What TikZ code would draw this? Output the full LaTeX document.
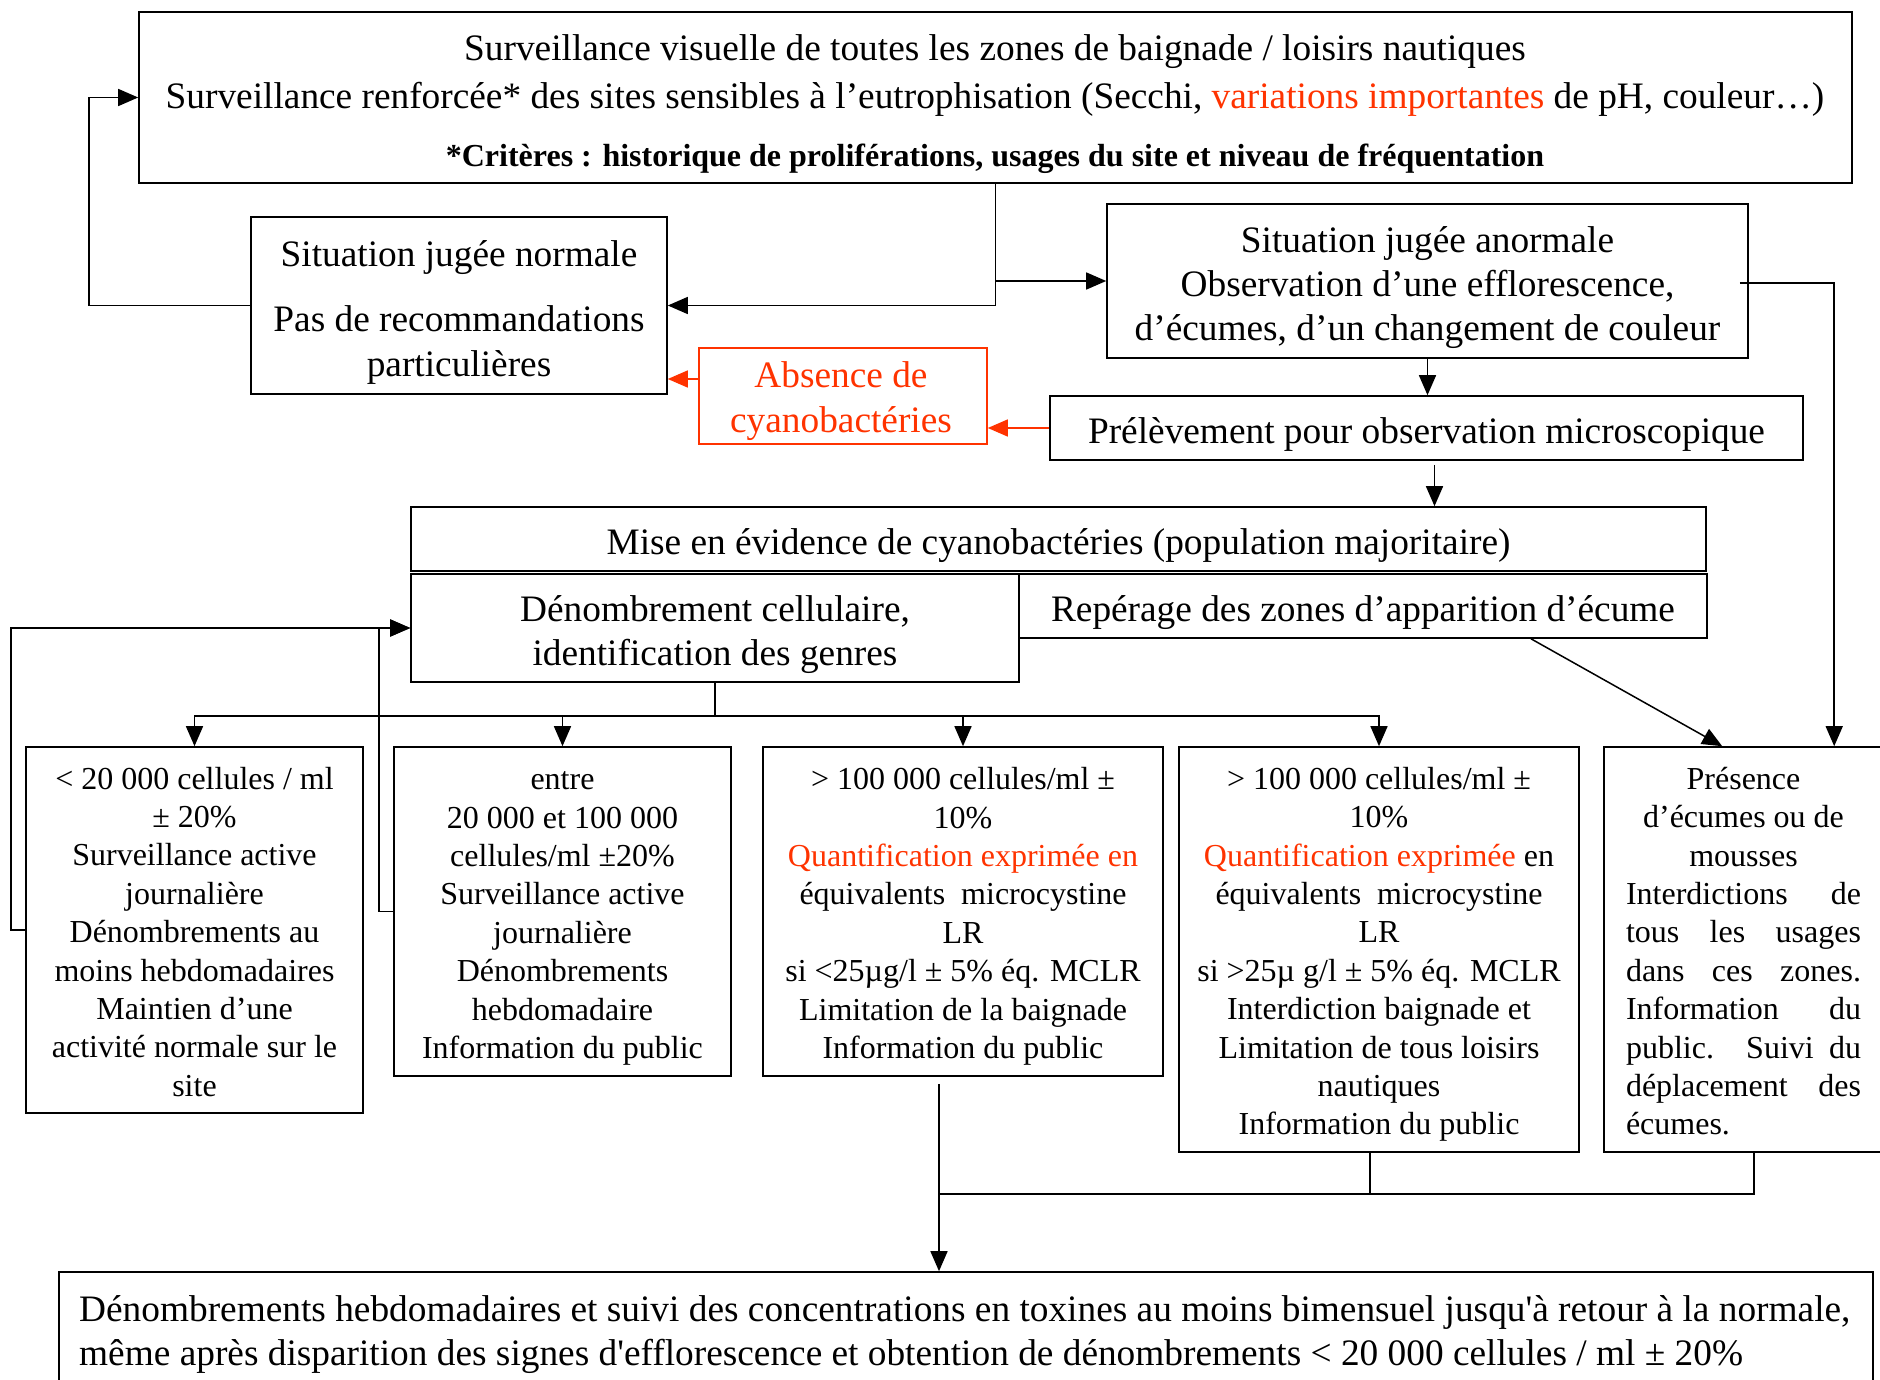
\documentclass[tikz,border=0pt]{standalone}
\usepackage{fontspec}
\setmainfont{Liberation Serif}[Ligatures=TeXOff]
\usetikzlibrary{arrows.meta,calc}
\definecolor{redo}{RGB}{255,51,0}
\newcommand\fsz[2]{\fontsize{#1}{#2}\selectfont}
\newcommand\T[1][14pt]{\rule{0pt}{\dimexpr0.7\baselineskip+#1\relax}}
\newcommand\B{\rule[-0.3\baselineskip]{0pt}{0pt}}
\tikzset{
  box/.style={draw, line width=1.6pt, inner sep=0pt, align=center},
  txt/.style={inner sep=0pt, align=center},
  conn/.style={line width=1.5pt, -{Triangle[length=20pt,width=17pt]}},
  rconn/.style={conn, draw=redo, -{Triangle[length=20pt,width=17pt,fill=redo]}},
  plain/.style={line width=1.5pt},
  big/.style={font=\fsz{37.33}{44}},
  small/.style={font=\fsz{32}{38.4}},
}
\begin{document}
\begin{tikzpicture}[x=1pt,y=-1pt]
\useasboundingbox (0,0) rectangle (1880,1380);
% top box
\node[box, minimum width=1713pt, minimum height=171pt] (top) at (995.5,97.5) {};
\node[txt, font=\fsz{37.33}{48}] (t1) at (995,67.5) {\T Surveillance visuelle de toutes les zones de baignade / loisirs nautiques\\
Surveillance renforcée* des sites sensibles à l’eutrophisation (Secchi, \textcolor{redo}{variations importantes} de pH, couleur…)\B};
\node[txt, font=\fsz{32}{38.4}\bfseries] (t2) at (995,152) {\T *Critères : historique de proliférations, usages du site et niveau de fréquentation\B};
% second row
\node[box, font=\fsz{37.33}{45}, minimum width=416pt, minimum height=177pt] (normal) at (459,305.5)
  {\T Situation jugée normale\\[21pt] Pas de recommandations\\ particulières\B};
\node[box, font=\fsz{37.33}{44}, minimum width=641pt, minimum height=154pt] (anormale) at (1427.5,281)
  {\T Situation jugée anormale\\ Observation d’une efflorescence,\\ d’écumes, d’un changement de couleur\B};
\node[box, draw=redo, minimum width=288pt, minimum height=96pt] (absence) at (843,396) {};
\node[txt, text=redo, font=\fsz{37.33}{45}] (abst) at (841,393.5)
  {\T Absence de\\ cyanobactéries\B};
\node[box, big, minimum width=753pt, minimum height=64pt] (prelev) at (1426.5,428)
  {\T Prélèvement pour observation microscopique\B};
\node[box, big, minimum width=1295pt, minimum height=64pt] (mise) at (1058.5,539)
  {\T Mise en évidence de cyanobactéries (population majoritaire)\B};
\node[box, big, minimum width=608pt, minimum height=108pt] (denomb) at (715,628)
  {\T Dénombrement cellulaire,\\ identification des genres\B};
\node[box, big, minimum width=688pt, minimum height=64pt] (reperage) at (1363,606)
  {\T Repérage des zones d’apparition d’écume\B};
% bottom row
\node[box, small, minimum width=337pt, minimum height=366pt] (b1) at (194.5,930)
  {\T[10pt]< 20 000 cellules / ml\\ ± 20\%\\ Surveillance active\\ journalière\\ Dénombrements au\\ moins hebdomadaires\\ Maintien d’une\\ activité normale sur le\\ site\B};
\node[box, small, minimum width=337pt, minimum height=329pt] (b2) at (562.5,911.5)
  {\T[10pt]entre\\ 20 000 et 100 000\\ cellules/ml ±20\%\\ Surveillance active\\ journalière\\ Dénombrements\\ hebdomadaire\\ Information du public\B};
\node[box, small, minimum width=400pt, minimum height=329pt] (b3) at (963,911.5)
  {\T[10pt]> 100 000 cellules/ml ±\\ 10\%\\ \textcolor{redo}{Quantification exprimée en}\\ équivalents\ \ microcystine\\ LR\\ si <25µg/l ± 5\% éq. MCLR\\ Limitation de la baignade\\ Information du public\B};
\node[box, small, minimum width=400pt, minimum height=405pt] (b4) at (1379,949.5)
  {\T[10pt]> 100 000 cellules/ml ±\\ 10\%\\ \textcolor{redo}{Quantification exprimée} en\\ équivalents\ \ microcystine\\ LR\\ si >25µ g/l ± 5\% éq. MCLR\\ Interdiction baignade et\\ Limitation de tous loisirs\\ nautiques\\ Information du public\B};
\node[box, minimum width=300pt, minimum height=405pt] (b5) at (1754,949.5) {};
\node[txt, small] (b5t) at (1743.5,947.5)
  {\T Présence\\ d’écumes ou de\\ mousses\\
   \makebox[235pt][s]{Interdictions de}\\
   \makebox[235pt][s]{tous les usages}\\
   \makebox[235pt][s]{dans ces zones.}\\
   \makebox[235pt][s]{Information du}\\
   \makebox[235pt][s]{public. Suivi du}\\
   \makebox[235pt][s]{déplacement des}\\
   \makebox[235pt][l]{écumes.}\B};
% final box
\node[box, minimum width=1814pt, minimum height=128pt] (final) at (966,1336) {};
\node[txt, align=left, anchor=west, font=\fsz{37.33}{44}] (ft) at (79,1328)
  {\T Dénombrements hebdomadaires et suivi des concentrations en toxines au moins bimensuel jusqu'à retour à la normale,\\
   même après disparition des signes d'efflorescence et obtention de dénombrements < 20 000 cellules / ml ± 20\%\B};
% connectors
\draw[conn] (top.south) |- (normal.east);
\draw[conn] (top.south |- anormale.west) -- (anormale.west);
\draw[conn] (normal.west) -- ++(-161,0) |- (top.west);
\draw[conn] ([xshift=-9pt,yshift=-2pt]anormale.east) -| ([xshift=231pt]b5.north west);
\draw[conn] (anormale.south) -- (anormale.south |- prelev.north);
\draw[rconn] (prelev.west) -- (prelev.west -| absence.east);
\draw[rconn] ([yshift=17pt]absence.west) -- ([yshift=17pt]absence.west -| normal.east);
\draw[conn] ([xshift=8pt,yshift=-4pt]prelev.south) -- ([xshift=8pt]prelev.south |- mise.north);
\foreach \b in {b1,b2,b3,b4}{
  \draw[conn] (denomb.south) -- ++(0,33) -| (\b.north);
}
\draw[conn] ([xshift=168pt]reperage.south) -- ([xshift=119pt]b5.north west);
\draw[conn] (b1.west) -- ++(-14,0) |- (denomb.west);
\draw[conn] (b2.west) -- ++(-14,0) |- (denomb.west);
\coordinate (j) at (939,1194);
\draw[conn] ([xshift=-24pt,yshift=-7pt]b3.south) -- (j) -- (j |- final.north);
\draw[plain] ([xshift=-9pt]b4.south) |- (j);
\draw[plain] ([xshift=151pt]b5.south west) |- (j);
\end{tikzpicture}
\end{document}
